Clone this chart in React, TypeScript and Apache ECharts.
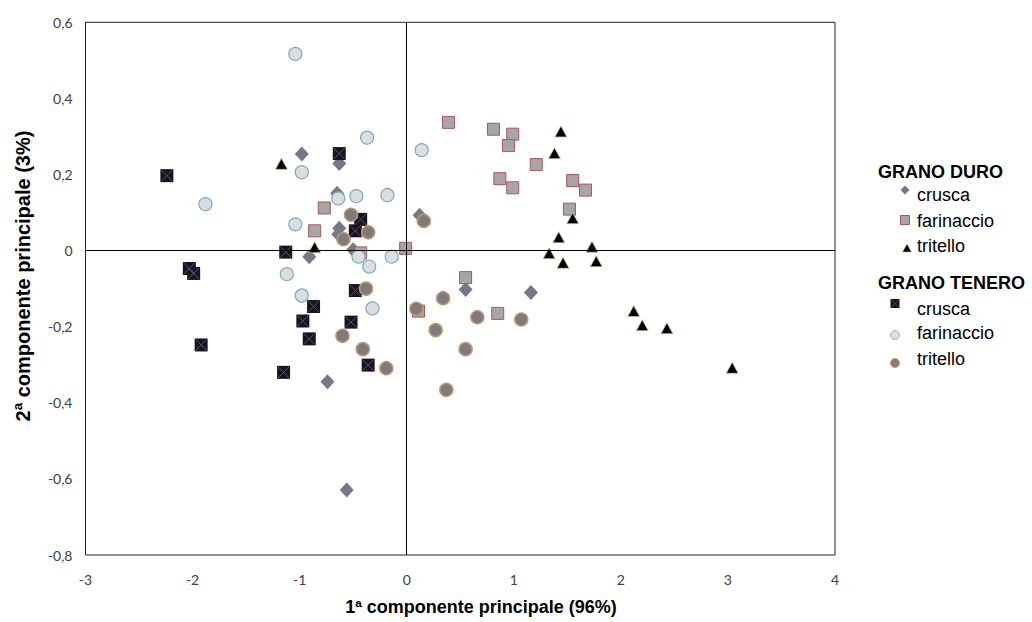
import React, { useEffect, useRef } from "react";
import * as echarts from "echarts";

// PCA scores: [PC1, PC2]
const duroCrusca: [number, number][] = [
  [-0.98, 0.254], [-0.63, 0.229], [-0.65, 0.151], [-0.63, 0.059], [-0.64, 0.043],
  [-0.5, 0.002], [-0.91, -0.016], [0.12, 0.093], [0.55, -0.102], [1.16, -0.11],
  [-0.74, -0.345], [-0.56, -0.629],
];
const duroFarinaccio: [number, number][] = [
  [0.39, 0.337], [0.81, 0.319], [0.99, 0.306], [0.95, 0.276], [1.21, 0.226],
  [0.87, 0.189], [0.99, 0.165], [1.55, 0.184], [1.67, 0.159], [1.52, 0.109],
  [-0.77, 0.112], [-0.86, 0.052], [-0.43, -0.006], [-0.01, 0.006], [0.55, -0.071],
  [0.11, -0.159], [0.85, -0.165],
];
const duroTritello: [number, number][] = [
  [1.44, 0.313], [1.38, 0.256], [-1.17, 0.228], [-0.86, 0.009], [1.55, 0.085],
  [1.42, 0.035], [1.73, 0.01], [1.33, -0.007], [1.46, -0.032], [1.77, -0.028],
  [2.12, -0.159], [2.2, -0.196], [2.43, -0.204], [3.04, -0.308],
];
const teneroCrusca: [number, number][] = [
  [-2.24, 0.197], [-0.63, 0.255], [-0.43, 0.082], [-0.48, 0.052], [-1.13, -0.004],
  [-2.03, -0.047], [-1.99, -0.06], [-0.87, -0.147], [-0.48, -0.105], [-0.97, -0.185],
  [-0.52, -0.188], [-0.91, -0.232], [-1.92, -0.248], [-1.15, -0.32], [-0.36, -0.301],
];
const teneroFarinaccio: [number, number][] = [
  [-1.04, 0.517], [-0.37, 0.297], [0.14, 0.264], [-0.98, 0.206], [-1.88, 0.122],
  [-0.64, 0.137], [-0.47, 0.143], [-0.18, 0.146], [-1.04, 0.069], [-0.45, -0.016],
  [-0.14, -0.016], [-0.35, -0.042], [-1.12, -0.062], [-0.98, -0.118], [-0.32, -0.152],
];
const teneroTritello: [number, number][] = [
  [-0.52, 0.094], [-0.36, 0.048], [-0.59, 0.03], [0.16, 0.078], [-0.38, -0.1],
  [-0.6, -0.224], [-0.41, -0.259], [-0.19, -0.309], [0.34, -0.125], [0.09, -0.153],
  [0.66, -0.175], [1.07, -0.181], [0.27, -0.209], [0.55, -0.259], [0.37, -0.366],
];

const groupLabels = ["GRANO DURO", "GRANO TENERO"];
const sampleLabels = ["crusca", "farinaccio", "tritello"];
const xTitle = "1ª componente principale (96%)";
const yTitle = "2ª componente principale (3%)";

const C = {
  diamond: "#737987",
  squareFill: "#a6a6a6",
  squareBorder: "#b0545a",
  triangle: "#000000",
  triangleBorder: "#c9c98f",
  blackSq: "#17141f",
  blackX: "#5e5070",
  circleFill: "#d9dee1",
  circleBorder: "#7ea9b9",
  brownFill: "#7e7b7e",
  brownBorder: "#c4946a",
};

const ARIAL = "'Liberation Sans', Arial, sans-serif";

export default function App() {
  const ref = useRef<HTMLDivElement>(null);

  useEffect(() => {
    document.body.style.margin = "0";
    if (!ref.current) return;
    const chart = echarts.init(ref.current, undefined, { renderer: "svg" });

    const legendText = (text: string, x: number, y: number, bold = false) => ({
      type: "text",
      x,
      y,
      style: {
        text,
        fill: "#000",
        font: `${bold ? "bold " : ""}18px ${ARIAL}`,
        textVerticalAlign: "middle",
      },
    });

    const lx = 878;
    const ix = 905;
    const ix2 = 895;
    const tx = 917;

    const graphic: any[] = [
      // axis titles
      {
        type: "text",
        x: 481,
        y: 607,
        style: {
          text: xTitle,
          fill: "#000",
          font: `bold 18px ${ARIAL}`,
          textAlign: "center",
          textVerticalAlign: "middle",
        },
      },
      {
        type: "text",
        x: 23,
        y: 276,
        rotation: Math.PI / 2,
        style: {
          text: yTitle,
          fill: "#000",
          font: `bold 20px ${ARIAL}`,
          textAlign: "center",
          textVerticalAlign: "middle",
        },
      },
      // legend
      legendText(groupLabels[0], lx, 172, true),
      {
        type: "polygon",
        shape: { points: [[ix, 185.5], [ix + 4.5, 190], [ix, 194.5], [ix - 4.5, 190]] },
        style: { fill: C.diamond },
      },
      legendText(sampleLabels[0], tx, 195),
      {
        type: "rect",
        shape: { x: ix - 4.5, y: 215.5, width: 9, height: 9 },
        style: { fill: C.squareFill, stroke: C.squareBorder, lineWidth: 1 },
      },
      legendText(sampleLabels[1], tx, 221),
      {
        type: "polygon",
        shape: { points: [[ix + 2, 244], [ix + 6.5, 252], [ix - 2.5, 252]] },
        style: { fill: C.triangle, stroke: C.triangleBorder, lineWidth: 0.6 },
      },
      legendText(sampleLabels[2], tx, 246),
      legendText(groupLabels[1], lx, 283, true),
      {
        type: "rect",
        shape: { x: ix2 - 4.5, y: 299, width: 9, height: 9 },
        style: { fill: C.blackSq },
      },
      {
        type: "line",
        shape: { x1: ix2 - 4, y1: 299.5, x2: ix2 + 4, y2: 307.5 },
        style: { stroke: C.blackX, lineWidth: 0.8 },
      },
      {
        type: "line",
        shape: { x1: ix2 + 4, y1: 299.5, x2: ix2 - 4, y2: 307.5 },
        style: { stroke: C.blackX, lineWidth: 0.8 },
      },
      legendText(sampleLabels[0], tx, 309),
      {
        type: "circle",
        shape: { cx: ix2, cy: 335, r: 4.5 },
        style: { fill: C.circleFill, stroke: C.circleBorder, lineWidth: 0.8 },
      },
      legendText(sampleLabels[1], tx, 333),
      {
        type: "circle",
        shape: { cx: ix2, cy: 363, r: 4.5 },
        style: { fill: "#8a7d72", stroke: C.brownBorder, lineWidth: 0.8 },
      },
      legendText(sampleLabels[2], tx, 359),
    ];

    const fmtY = (v: number) =>
      Math.abs(v) < 1e-9 ? "0" : v.toFixed(1).replace(".", ",");

    chart.setOption({
      animation: false,
      textStyle: { fontFamily: ARIAL },
      grid: {
        left: 85.5,
        right: 197,
        top: 22.3,
        bottom: 67,
        show: true,
        borderColor: "#222",
        borderWidth: 1,
        backgroundColor: "#fff",
      },
      xAxis: {
        type: "value",
        min: -3,
        max: 4,
        interval: 1,
        axisLine: { show: false },
        axisTick: { show: false },
        splitLine: { show: false },
        axisLabel: {
          margin: 17,
          fontFamily: "Lato, sans-serif",
          fontSize: 14,
          color: "#404040",
        },
      },
      yAxis: {
        type: "value",
        min: -0.8,
        max: 0.6,
        interval: 0.2,
        axisLine: { show: false },
        axisTick: { show: false },
        splitLine: { show: false },
        axisLabel: {
          margin: 13,
          fontFamily: "Lato, sans-serif",
          fontSize: 14,
          color: "#404040",
          formatter: fmtY,
        },
      },
      graphic,
      series: [
        {
          // zero lines behind the markers
          type: "scatter",
          data: [],
          z: 1,
          silent: true,
          markLine: {
            silent: true,
            symbol: "none",
            label: { show: false },
            lineStyle: { color: "#000", width: 1, type: "solid" },
            data: [{ xAxis: 0 }, { yAxis: 0 }],
          },
        },
        {
          name: "GRANO DURO crusca",
          type: "scatter",
          z: 2,
          symbol: "diamond",
          symbolSize: [14, 15],
          itemStyle: { color: C.diamond, opacity: 1 },
          data: duroCrusca,
        },
        {
          name: "GRANO DURO farinaccio",
          type: "scatter",
          z: 2,
          symbol: "rect",
          symbolSize: 12,
          itemStyle: { color: C.squareFill, borderColor: C.squareBorder, borderWidth: 1, opacity: 1 },
          data: duroFarinaccio,
        },
        {
          name: "GRANO DURO tritello",
          type: "scatter",
          z: 2,
          symbol: "triangle",
          symbolSize: [12, 11],
          itemStyle: { color: C.triangle, borderColor: C.triangleBorder, borderWidth: 0.8, opacity: 1 },
          data: duroTritello,
        },
        {
          name: "GRANO TENERO crusca",
          type: "scatter",
          z: 2,
          symbol: "rect",
          symbolSize: 13,
          itemStyle: { color: C.blackSq, opacity: 1 },
          data: teneroCrusca,
        },
        {
          name: "GRANO TENERO crusca X",
          type: "scatter",
          z: 2,
          silent: true,
          symbol: "path://M0,0L10,10M10,0L0,10",
          symbolSize: 11,
          itemStyle: { color: "none", borderColor: C.blackX, borderWidth: 1, opacity: 1 },
          data: teneroCrusca,
        },
        {
          name: "GRANO TENERO farinaccio",
          type: "scatter",
          z: 2,
          symbol: "circle",
          symbolSize: 13,
          itemStyle: { color: C.circleFill, borderColor: C.circleBorder, borderWidth: 1.2, opacity: 1 },
          data: teneroFarinaccio,
        },
        {
          name: "GRANO TENERO tritello",
          type: "scatter",
          z: 2,
          symbol: "circle",
          symbolSize: 13,
          itemStyle: { color: C.brownFill, borderColor: C.brownBorder, borderWidth: 1.5, opacity: 1 },
          data: teneroTritello,
        },
      ],
    });

    return () => chart.dispose();
  }, []);

  return <div ref={ref} style={{ width: 1032, height: 622 }} />;
}
